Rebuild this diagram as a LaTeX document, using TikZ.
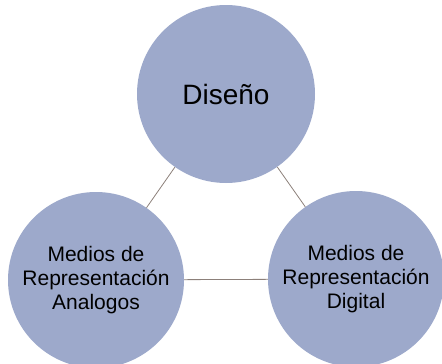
\documentclass[tikz,border=0pt]{standalone}
\usepackage{fontspec}
\setmainfont{Liberation Sans}
\definecolor{circfill}{RGB}{157,169,203}
\definecolor{linkcol}{RGB}{140,128,122}
\begin{document}
\begin{tikzpicture}[x=1pt,y=-1pt,
  bubble/.style={circle, fill=circfill, inner sep=0pt, align=center, text=black},
  link/.style={draw=linkcol, line width=0.8pt}]
\useasboundingbox (0,0) rectangle (442,364);
\node[bubble, minimum size=178pt, font=\fontsize{28}{32}\selectfont] (top) at (226,94) {Diseño};
\node[bubble, minimum size=176pt, font=\fontsize{21}{24}\selectfont] (left) at (96,280) {Medios de\\Representación\\Analogos};
\node[bubble, minimum size=176pt, font=\fontsize{21}{24}\selectfont] (right) at (356,279) {Medios de\\Representación\\Digital};
\draw[link] (top) -- (left);
\draw[link] (top) -- (right);
\draw[link] (left) -- (right);
\end{tikzpicture}
\end{document}
